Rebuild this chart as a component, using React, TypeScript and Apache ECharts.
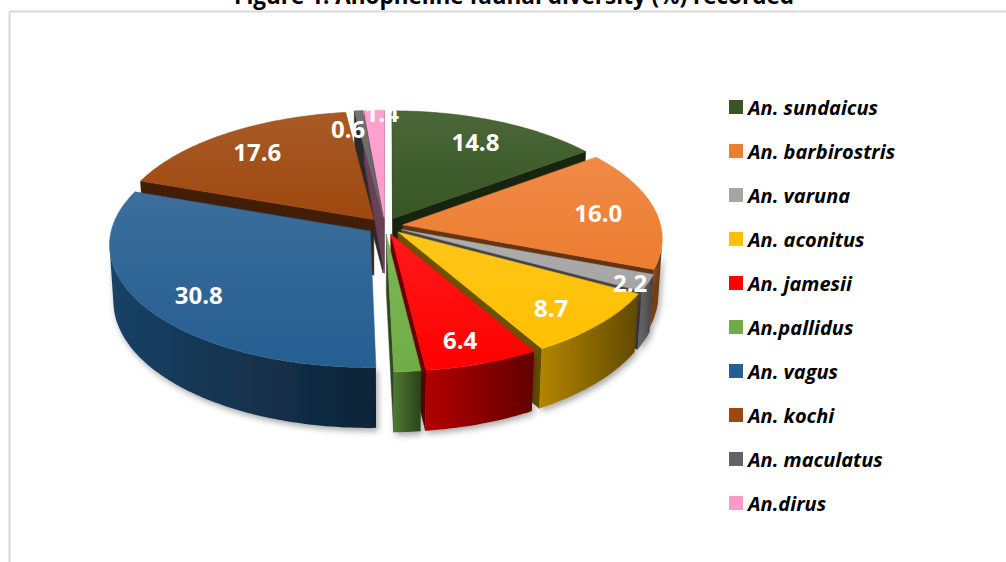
import React, { useEffect, useRef } from 'react';
import * as echarts from 'echarts';

// ---------- data ----------
const TITLE = 'Figure 1: Anopheline faunal diversity (%) recorded';
const species = [
  'An. sundaicus',
  'An. barbirostris',
  'An. varuna',
  'An. aconitus',
  'An. jamesii',
  'An.pallidus',
  'An. vagus',
  'An. kochi',
  'An. maculatus',
  'An.dirus',
];
const percent = [14.8, 16.0, 2.2, 8.7, 6.4, 1.5, 30.8, 17.6, 0.6, 1.4];
const colors = ['#375623', '#ED7D31', '#A5A5A5', '#FFC000', '#FF0000', '#70AD47', '#255E91', '#9E480E', '#636363', '#FF99CC'];
const unlabelled = ['An.pallidus'];

// ---------- styling / layout constants ----------
const CX = 385;
const CY = 226;
const R = 258;
const H = 64;
const EXPLODE = 18;
const PHI = (27.9 * Math.PI) / 180;
const DIST = 2131;
const COSP = Math.cos(PHI);
const SINP = Math.sin(PHI);
const FONT = '"Open Sans", "Noto Sans", sans-serif';
// label nudges for the thin back slices (pixels), like the reference's label placement
const labelNudge: Record<string, number[]> = {
  'An. maculatus': [-12, 11],
  'An.dirus': [7, -5],
};

function project(X: number, Y: number, Z: number): number[] {
  const yv = Y * COSP + Z * SINP;
  const zv = Z * COSP - Y * SINP;
  const s = DIST / (DIST + zv);
  return [CX + s * X, CY - s * yv, zv];
}

function rgb(h: string): number[] {
  const n = parseInt(h.slice(1), 16);
  return [(n >> 16) & 255, (n >> 8) & 255, n & 255];
}
function shade(h: string, k: number): string {
  const [r, g, b] = rgb(h);
  return `rgb(${Math.round(r * k)},${Math.round(g * k)},${Math.round(b * k)})`;
}
function tint(h: string, k: number): string {
  const [r, g, b] = rgb(h);
  const f = (c: number) => Math.round(c + (255 - c) * k);
  return `rgb(${f(r)},${f(g)},${f(b)})`;
}

const total = percent.reduce((a, b) => a + b, 0);
const starts: number[] = [];
{
  let acc = 0;
  for (const v of percent) {
    starts.push(acc);
    acc += v;
  }
}

function renderItem(params: any, api: any) {
  const i = params.dataIndex;
  const v = api.value(0) as number;
  const a0 = (starts[i] / total) * 2 * Math.PI;
  const a1 = ((starts[i] + v) / total) * 2 * Math.PI;
  const mid = (a0 + a1) / 2;
  const ox = EXPLODE * Math.sin(mid);
  const oz = EXPLODE * Math.cos(mid);
  const pt = (r: number, t: number, y: number) => project(ox + r * Math.sin(t), y, oz + r * Math.cos(t));
  const color = colors[i];
  const children: any[] = [];
  const n = Math.max(2, Math.ceil((a1 - a0) / (Math.PI / 180)));
  const ang = (k: number) => a0 + ((a1 - a0) * k) / n;
  const camX = 0;
  const camZ = -DIST * COSP;
  const avgZ = (ps: number[][]) => ps.reduce((s, p) => s + p[2], 0) / ps.length;
  const xy = (ps: number[][]) => ps.map((p) => [p[0], p[1]]);

  // radial walls
  const walls = [
    { t: a0, nx: -Math.cos(a0), nz: Math.sin(a0) },
    { t: a1, nx: Math.cos(a1), nz: -Math.sin(a1) },
  ];
  for (const w of walls) {
    const dot = w.nx * (camX - ox) + w.nz * (camZ - oz);
    if (dot <= 0) continue;
    const ps = [pt(0, w.t, 0), pt(R, w.t, 0), pt(R, w.t, -H), pt(0, w.t, -H)];
    children.push({
      type: 'polygon',
      z2: Math.round(10000 - avgZ(ps)),
      shape: { points: xy(ps) },
      style: { fill: shade(color, 0.42), stroke: shade(color, 0.42), lineWidth: 0.5 },
    });
  }

  // outer curved wall, visible runs only
  const visible: boolean[] = [];
  for (let k = 0; k < n; k++) {
    const tm = (ang(k) + ang(k + 1)) / 2;
    const X = ox + R * Math.sin(tm);
    const Z = oz + R * Math.cos(tm);
    visible.push(Math.sin(tm) * (camX - X) + Math.cos(tm) * (camZ - Z) > 0);
  }
  let k = 0;
  while (k < n) {
    if (!visible[k]) {
      k++;
      continue;
    }
    const ks = k;
    while (k < n && visible[k]) k++;
    const ke = k;
    const topPts: number[][] = [];
    const botPts: number[][] = [];
    for (let j = ks; j <= ke; j++) {
      topPts.push(pt(R, ang(j), 0));
      botPts.push(pt(R, ang(j), -H));
    }
    const ps = topPts.concat(botPts.reverse());
    children.push({
      type: 'polygon',
      z2: Math.round(10000 - avgZ(topPts)),
      shape: { points: xy(ps) },
      style: {
        fill: {
          type: 'linear',
          x: 0,
          y: 0,
          x2: 1,
          y2: 0,
          colorStops: [
            { offset: 0, color: shade(color, 0.7) },
            { offset: 1, color: shade(color, 0.38) },
          ],
        },
        shadowBlur: 6,
        shadowOffsetX: 2,
        shadowOffsetY: 3,
        shadowColor: 'rgba(0,0,0,0.35)',
      },
    });
  }

  // top face
  const top: number[][] = [project(ox, 0, oz)];
  for (let j = 0; j <= n; j++) top.push(pt(R, ang(j), 0));
  children.push({
    type: 'polygon',
    z2: 20000,
    shape: { points: xy(top) },
    style: {
      fill: {
        type: 'linear',
        x: 0,
        y: 0,
        x2: 0,
        y2: 1,
        colorStops: [
          { offset: 0, color: tint(color, 0.1) },
          { offset: 1, color: color },
        ],
      },
      stroke: color,
      lineWidth: 0.5,
    },
  });

  // label
  if (unlabelled.indexOf(species[i]) < 0) {
    const lr = v < 3 ? 0.93 * R : 0.775 * R;
    const lp = pt(lr, mid, 0);
    const nudge = labelNudge[species[i]] || [0, 0];
    const front = Math.max(0, -Math.cos(mid)) * 8;
    children.push({
      type: 'text',
      z2: 30000,
      x: lp[0] + nudge[0],
      y: lp[1] + front + nudge[1],
      style: {
        text: v.toFixed(1),
        fill: '#ffffff',
        font: `bold 24px ${FONT}`,
        align: 'center',
        verticalAlign: 'middle',
        textAlign: 'center',
        textVerticalAlign: 'middle',
      },
    });
  }

  return { type: 'group', children };
}

export default function App() {
  const ref = useRef<HTMLDivElement>(null);
  useEffect(() => {
    if (!ref.current) return;
    const chart = echarts.init(ref.current, undefined, { renderer: 'svg' });
    const option: any = {
      animation: false,
      backgroundColor: '#ffffff',
      graphic: [
        {
          type: 'line',
          shape: { x1: 9.5, y1: 11.5, x2: 1006, y2: 11.5 },
          style: { stroke: '#d9d9d9', lineWidth: 2 },
          silent: true,
        },
        {
          type: 'line',
          shape: { x1: 9.5, y1: 11.5, x2: 9.5, y2: 562 },
          style: { stroke: '#d9d9d9', lineWidth: 2 },
          silent: true,
        },
        {
          type: 'text',
          x: 514,
          y: 7,
          silent: true,
          style: {
            text: TITLE,
            font: `bold 22.5px ${FONT}`,
            fill: '#000000',
            align: 'center',
            verticalAlign: 'bottom',
            textAlign: 'center',
            textVerticalAlign: 'bottom',
          },
        },
      ],
      legend: {
        data: species,
        orient: 'vertical',
        left: 729,
        top: 96,
        padding: 0,
        itemWidth: 14,
        itemHeight: 14,
        itemGap: 22,
        icon: 'rect',
        selectedMode: false,
        textStyle: {
          fontFamily: FONT,
          fontWeight: 'bold',
          fontStyle: 'italic',
          fontSize: 20,
          lineHeight: 22,
          color: '#000000',
        },
      },
      series: [
        {
          type: 'pie',
          center: [-500, -500],
          radius: 1,
          silent: true,
          label: { show: false },
          labelLine: { show: false },
          data: species.map((name, i) => ({ name, value: percent[i], itemStyle: { color: colors[i] } })),
        },
        {
          type: 'custom',
          coordinateSystem: 'none',
          silent: true,
          renderItem,
          data: percent.map((v) => [v]),
        },
      ],
    };
    chart.setOption(option);
    return () => chart.dispose();
  }, []);
  return (
    <div
      ref={ref}
      style={{ position: 'fixed', left: 0, top: 0, width: 1006, height: 562, background: '#fff' }}
    />
  );
}
